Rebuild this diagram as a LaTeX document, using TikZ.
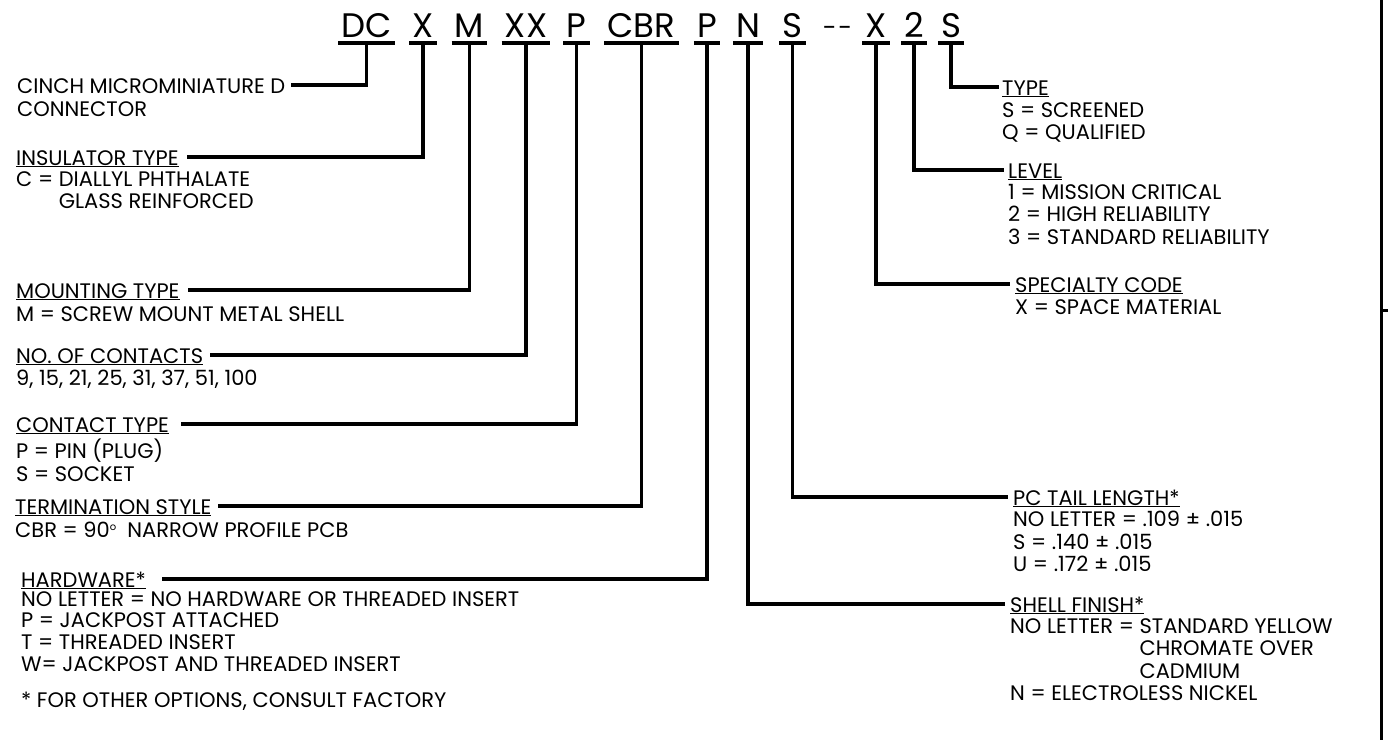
\documentclass[tikz,border=0pt]{standalone}
\usepackage{fontspec}
\setmainfont{Poppins}
\usetikzlibrary{positioning}

\newcommand{\headul}[1]{\setbox0\hbox{#1}\rlap{\rule[-2pt]{\wd0}{1pt}}\box0}

\begin{document}
\begin{tikzpicture}[x=1pt,y=-1pt,
  code/.style={inner xsep=3pt, inner ysep=0pt, text height=25pt, text depth=6pt, anchor=base, font=\fontsize{34}{34}\selectfont},
  head/.style={inner sep=0pt, anchor=base west, text height=16pt, text depth=0pt, font=\fontsize{21}{22.5}\selectfont},
  body/.style={inner sep=0pt, anchor=north west, align=left, font=\fontsize{21}{22.5}\selectfont,
    execute at begin node=\rule{0pt}{16pt}},
  bar/.style={line width=3.5pt},
  lead/.style={line width=3.3pt},
  ]
  \useasboundingbox (0,0) rectangle (1388,740);

  % part number
  \node[code] (dc) at (366.5,37) {DC}; \node[code] (ins) at (423,37) {X}; \node[code] (mnt) at (469.5,37) {M};
  \node[code] (cnt) at (526,37) {XX}; \node[code] (ctp) at (576.5,37) {P}; \node[code] (trm) at (641.5,37) {CBR};
  \node[code] (hwr) at (707,37) {P}; \node[code] (shl) at (748,37) {N}; \node[code] (tail) at (792.5,37) {S};
  \node[code, font=\fontsize{25}{25}\selectfont] (dash) at (837.5,36) {-\kern1.5pt-};
  \node[code] (spc) at (876,37) {X}; \node[code] (lvl) at (914,37) {2}; \node[code] (typ) at (951,37) {S};
  \foreach \c in {dc,ins,mnt,cnt,ctp,trm,hwr,shl,tail,spc,lvl,typ}
    \draw[bar] (\c.south west) -- (\c.south east);

  % left column (body nodes sit 16pt above their first baseline)
  \node[head] (dcH) at (17,93) {CINCH MICROMINIATURE D};
  \node[body] (dcB) at (17,100) {CONNECTOR};
  \node[head] (insH) at (16,165) {\headul{INSULATOR TYPE}};
  \node[body] (insB) at (16,171) {C = DIALLYL PHTHALATE\\\phantom{C = }GLASS REINFORCED};
  \node[head] (mntH) at (16,298) {\headul{MOUNTING TYPE}};
  \node[body] (mntB) at (16,305) {M = SCREW MOUNT METAL SHELL};
  \node[head] (cntH) at (16,363) {\headul{NO. OF CONTACTS}};
  \node[body] (cntB) at (16,369) {9, 15, 21, 25, 31, 37, 51, 100};
  \node[head] (ctpH) at (16,432) {\headul{CONTACT TYPE}};
  \node[body] (ctpB) at (16,439) {P = PIN (PLUG)\\S = SOCKET};
  \node[head] (trmH) at (15,514) {\headul{TERMINATION STYLE}};
  \node[body] (trmB) at (15,521) {CBR = 90\raisebox{7pt}{\fontsize{10}{10}\selectfont o}\ \ NARROW PROFILE PCB};
  \node[head] (hwrH) at (21,587) {\headul{HARDWARE*}};
  \node[body, font=\fontsize{21}{21.7}\selectfont] (hwrB) at (21,591) {NO LETTER = NO HARDWARE OR THREADED INSERT\\P = JACKPOST ATTACHED\\T = THREADED INSERT\\W= JACKPOST AND THREADED INSERT};
  \node[body] (note) at (21,691) {* FOR OTHER OPTIONS, CONSULT FACTORY};

  % right column
  \node[head] (typH) at (1002,95) {\headul{TYPE}};
  \node[body] (typB) at (1002,102) {S = SCREENED\\Q = QUALIFIED};
  \node[head] (lvlH) at (1008,178) {\headul{LEVEL}};
  \node[body] (lvlB) at (1008,184) {1 = MISSION CRITICAL\\2 = HIGH RELIABILITY\\3 = STANDARD RELIABILITY};
  \node[head] (spcH) at (1015,292) {\headul{SPECIALTY CODE}};
  \node[body] (spcB) at (1015,298) {X = SPACE MATERIAL};
  \node[head] (tailH) at (1013,505) {\headul{PC TAIL LENGTH*}};
  \node[body] (tailB) at (1013,511) {NO LETTER = .109 ± .015\\S = .140 ± .015\\U = .172 ± .015};
  \node[head] (shlH) at (1010,612) {\headul{SHELL FINISH*}};
  \node[body] (shlB) at (1010,618) {NO LETTER = STANDARD YELLOW\\\phantom{NO LETTER = }CHROMATE OVER\\\phantom{NO LETTER = }CADMIUM\\N = ELECTROLESS NICKEL};

  % leads
  \draw[lead, shorten >=6pt] (dc.south) |- (dcH.east);
  \draw[lead, shorten >=8pt] (ins.south) |- (insH.east);
  \draw[lead, shorten >=8pt] (mnt.south) |- (mntH.east);
  \draw[lead, shorten >=7pt] (cnt.south) |- (cntH.east);
  \draw[lead, shorten >=12pt] (ctp.south) |- (ctpH.east);
  \draw[lead, shorten >=6pt] (trm.south) |- (trmH.east);
  \draw[lead, shorten >=16pt] (hwr.south) |- (hwrH.east);
  \draw[lead, shorten >=5pt] (shl.south) |- (shlH.west);
  \draw[lead, shorten >=5pt] (tail.south) |- (tailH.west);
  \draw[lead, shorten >=5pt] (spc.south) |- (spcH.west);
  \draw[lead, shorten >=4pt] (lvl.south) |- (lvlH.west);
  \draw[lead, shorten >=3pt] (typ.south) |- (typH.west);

  % sheet edge
  \draw[line width=3pt] (1381,0) -- (1381,740);
  \draw[line width=3pt] (1381,310) -- (1388,310);
\end{tikzpicture}
\end{document}
